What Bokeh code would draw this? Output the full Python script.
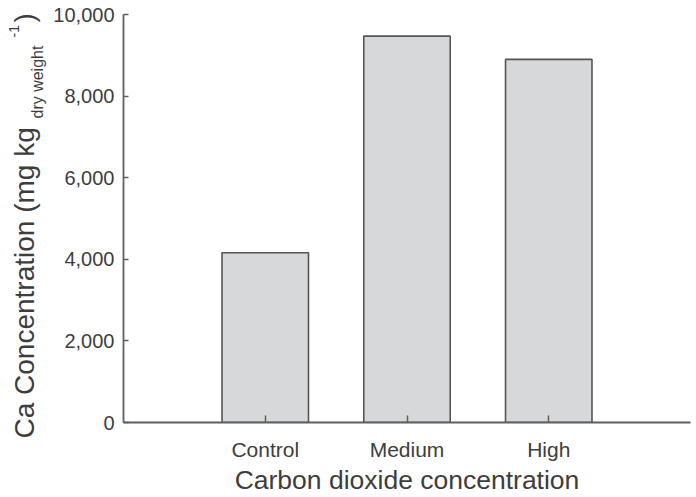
import math
from bokeh.plotting import figure
from bokeh.layouts import row
from bokeh.models import Range1d, FixedTicker, NumeralTickFormatter
from bokeh.core.properties import value
from bokeh.embed import file_html
from bokeh.resources import INLINE

categories = ["Control", "Medium", "High"]
ca_values = [4160, 9470, 8900]
y_ticks = [0, 2000, 4000, 6000, 8000, 10000]
x_title = "Carbon dioxide concentration"
y_title_main = "Ca Concentration (mg kg"
y_title_sub = "dry weight"
y_title_sup = "-1"
y_title_end = ")"

positions = [i + 1 for i in range(len(categories))]

FONT = "Liberation Sans"
TXT = "#3d3d3d"
AX = "#5f5f5f"
W = 696
H = 497
LW = 50

# ---- left strip: rotated y-axis title with subscript / superscript ----
t = figure(width=LW, height=H, output_backend="svg", toolbar_location=None,
           x_range=Range1d(0, LW), y_range=Range1d(0, H),
           x_axis_type=None, y_axis_type=None,
           min_border=0, min_border_left=0, min_border_right=0,
           min_border_top=0, min_border_bottom=0)
t.outline_line_color = None
t.xgrid.visible = False
t.ygrid.visible = False
if hasattr(t, "frame_align"):
    t.frame_align = False


def piece(text, size, x, y_canvas):
    t.text(x=[x], y=[H - y_canvas], text=[text], angle=math.pi / 2,
           text_font=value(FONT), text_font_size=size, text_color=TXT,
           text_align="left", text_baseline="alphabetic")


piece(y_title_main, "28px", 24, 438)
piece(y_title_sub, "16px", 37, 118)
piece(y_title_sup, "14px", 13, 37)
piece(y_title_end, "28px", 24, 22)

# ---- main chart ----
p = figure(width=W - LW, height=H, output_backend="svg", toolbar_location=None,
           x_range=Range1d(0, 4), y_range=Range1d(0, 10000),
           min_border_left=123 - LW, min_border_right=6, min_border_top=14,
           min_border_bottom=H - 422)
p.outline_line_color = None
p.xgrid.visible = False
p.ygrid.visible = False
if hasattr(p, "frame_align"):
    p.frame_align = False

p.vbar(x=positions, top=ca_values, width=0.61, bottom=0,
       fill_color="#d7d8d9", line_color="#555555", line_width=1.6)

xa = p.xaxis[0]
xa.ticker = FixedTicker(ticks=positions)
xa.major_label_overrides = {pos: c for pos, c in zip(positions, categories)}
xa.major_tick_in = 7
xa.major_tick_out = 0
xa.minor_tick_line_color = None
xa.axis_line_color = AX
xa.axis_line_width = 1.8
xa.major_tick_line_color = AX
xa.major_tick_line_width = 1.5
xa.major_label_text_font = FONT
xa.major_label_text_font_size = "21px"
xa.major_label_text_color = TXT
xa.major_label_text_line_height = 1.0
xa.major_label_standoff = 15
xa.axis_label = x_title
xa.axis_label_text_font = FONT
xa.axis_label_text_font_size = "26.5px"
xa.axis_label_text_font_style = "normal"
xa.axis_label_text_color = TXT
xa.axis_label_text_line_height = 1.0
xa.axis_label_standoff = 1

ya = p.yaxis[0]
ya.ticker = FixedTicker(ticks=y_ticks)
ya.formatter = NumeralTickFormatter(format="0,0")
ya.major_tick_in = 5
ya.major_tick_out = 0
ya.minor_tick_line_color = None
ya.axis_line_color = AX
ya.axis_line_width = 1.8
ya.major_tick_line_color = AX
ya.major_tick_line_width = 1.5
ya.major_label_text_font = FONT
ya.major_label_text_font_size = "20px"
ya.major_label_text_color = TXT
ya.major_label_standoff = 9

layout = row(t, p, spacing=0)
open("out.html", "w").write(file_html(layout, INLINE))
